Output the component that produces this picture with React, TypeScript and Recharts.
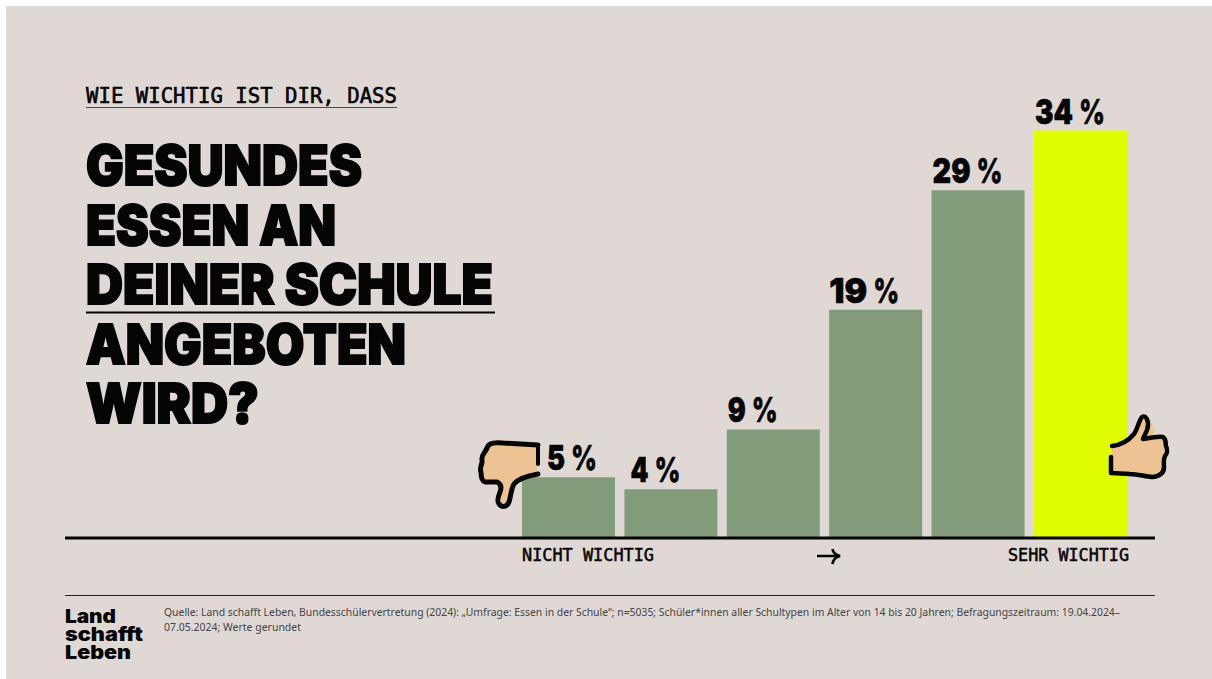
import React from 'react';
import { BarChart, Bar, Cell, XAxis, YAxis, LabelList } from 'recharts';

const categories = ['1', '2', '3', '4', '5', '6'];
const shares = [5, 4, 9, 19, 29, 34];
const barColors = ['#829c79', '#829c79', '#829c79', '#829c79', '#829c79', '#dfff00'];

const titleLines = ['GESUNDES', 'ESSEN AN', 'DEINER SCHULE', 'ANGEBOTEN', 'WIRD?'];
const sourceLines = [
  'Quelle: Land schafft Leben, Bundesschülervertretung (2024): „Umfrage: Essen in der Schule“; n=5035; Schüler*innen aller Schultypen im Alter von 14 bis 20 Jahren; Befragungszeitraum: 19.04.2024–',
  '07.05.2024; Werte gerundet',
];
const logoLines = ['Land', 'schafft', 'Leben'];

const data = categories.map((category, index) => ({
  category,
  share: shares[index],
  color: barColors[index],
}));

const INK = '#050505';
const HEAVY = 'Inter, "Liberation Sans", sans-serif';
const MONO = '"DejaVu Sans Mono", "Liberation Mono", monospace';

// title widths, fonts differ so text is fitted
const titleWidths = [276, 250, 407, 320, 173];
const titleBaselines = [185, 245, 304, 364, 423];
const logoWidths = [51, 78, 66];
// label offsets from the bar's left edge, the first one leaves room for the hand
const labelOffsets = [25, 6, 1, 0, 1, 1];

const ShareLabel = (props: any) => {
  const { x, y, value, index } = props;
  const left = x + labelOffsets[index];
  const digitsWidth = value >= 10 ? 38 : 18;
  const baseline = y - 7;
  return (
    <g>
      <text
        x={left}
        y={baseline}
        fill={INK}
        stroke={INK}
        strokeWidth={0.6}
        fontFamily={HEAVY}
        fontWeight={900}
        fontSize={34}
        textLength={digitsWidth}
        lengthAdjust="spacingAndGlyphs"
      >
        {value}
      </text>
      <text
        x={left + digitsWidth + 6}
        y={baseline}
        fill={INK}
        stroke={INK}
        strokeWidth={0.7}
        fontFamily={HEAVY}
        fontWeight={800}
        fontSize={34}
        textLength={26}
        lengthAdjust="spacingAndGlyphs"
      >
        %
      </text>
    </g>
  );
};

const Overlay = () => (
  <svg width={1212} height={679} style={{ position: 'absolute', left: 0, top: 0 }}>
    {/* kicker */}
    <text x={86} y={103} fontFamily={MONO} fontSize={20.6} fill={INK} stroke={INK} strokeWidth={0.6} textLength={311} lengthAdjust="spacingAndGlyphs">
      WIE WICHTIG IST DIR, DASS
    </text>
    <line x1={86} x2={397} y1={107.5} y2={107.5} stroke="#4a4a4a" strokeWidth={1} />

    {/* title */}
    {titleLines.map((line, i) => (
      <text
        key={line}
        x={86}
        y={titleBaselines[i]}
        fontFamily={HEAVY}
        fontWeight={900}
        fontSize={55}
        fill={INK}
        stroke={INK}
        strokeWidth={2}
        textLength={titleWidths[i]}
        lengthAdjust="spacingAndGlyphs"
      >
        {line}
      </text>
    ))}
    <line x1={86} x2={495} y1={312.5} y2={312.5} stroke={INK} strokeWidth={2} />

    {/* baseline and axis captions */}
    <line x1={65} x2={1155} y1={538} y2={538} stroke={INK} strokeWidth={3} />
    <text x={522} y={561} fontFamily={MONO} fontSize={16.8} fill={INK} stroke={INK} strokeWidth={0.5} textLength={132} lengthAdjust="spacingAndGlyphs">
      NICHT WICHTIG
    </text>
    <text x={1008} y={561} fontFamily={MONO} fontSize={16.8} fill={INK} stroke={INK} strokeWidth={0.5} textLength={121} lengthAdjust="spacingAndGlyphs">
      SEHR WICHTIG
    </text>
    <path d="M817 556H838M832.5 549C833 553 836 555 840 556C836 557 833 560 832.5 564" fill="none" stroke={INK} strokeWidth={2.6} />

    {/* thumb down */}
    <path d="M488 446L537 446L537 472L522 477L512 487L505 505L497 504L500 483L484 481L481 468L483 455Z" fill="#edc393" />
    <path
      d="M538 445L503 443C494 442 488 443 487 448C485 453 481 455 482 460C483 463 479 468 481 472C481 477 482 481 485 482L497 482C501 484 502 487 500 492C498 497 497 502 499 504C502 508 507 507 509 502C511 496 511 489 514 484C518 479 526 476 538 474"
      fill="none" stroke={INK} strokeWidth={5} strokeLinecap="round" strokeLinejoin="round"
    />
    <path d="M538 445V464" fill="none" stroke={INK} strokeWidth={4} strokeLinecap="round" />

    {/* thumb up */}
    <path d="M1112 447L1126 443L1136 432L1141 418L1150 418L1155 436L1163 438L1166 452L1163 472L1152 476L1112 472Z" fill="#edc393" />
    <path
      d="M1112 446C1122 445 1129 440 1134 434C1138 428 1139 420 1142 417C1146 415 1148 420 1148 425C1148 431 1144 435 1143 439C1149 438 1158 436 1163 437C1167 440 1165 443 1166 446C1168 450 1167 454 1165 456C1163 460 1164 463 1164 467C1164 472 1161 476 1153 477C1145 477 1139 474 1130 474L1111 473V457"
      fill="none" stroke={INK} strokeWidth={4.5} strokeLinecap="round" strokeLinejoin="round"
    />

    {/* footer */}
    <line x1={65} x2={1155} y1={595.5} y2={595.5} stroke="#222" strokeWidth={1} />
    {logoLines.map((line, i) => (
      <text
        key={line}
        x={65}
        y={623 + i * 18}
        fontFamily={HEAVY}
        fontWeight={900}
        fontSize={19}
        fill={INK}
        textLength={logoWidths[i]}
        lengthAdjust="spacingAndGlyphs"
      >
        {line}
      </text>
    ))}
    {sourceLines.map((line, i) => (
      <text
        key={line}
        x={164}
        y={616 + i * 15}
        fontFamily='"Noto Sans", sans-serif'
        fontSize={10.3}
        fill="#444444"
        textLength={i === 0 ? 956 : 137}
        lengthAdjust="spacingAndGlyphs"
      >
        {line}
      </text>
    ))}
  </svg>
);

export default function App() {
  return (
    <div style={{ position: 'absolute', left: 0, top: 0, width: 1212, height: 679, background: '#ffffff', overflow: 'hidden' }}>
      <div style={{ position: 'absolute', left: 6, top: 6, width: 1206, height: 673, background: '#e0d8d5' }} />
      <div style={{ position: 'absolute', left: 0, top: 0 }}>
        <BarChart
          width={1212}
          height={679}
          data={data}
          margin={{ top: 130.5, right: 80.6, bottom: 142, left: 517 }}
        >
          <XAxis dataKey="category" hide />
          <YAxis hide domain={[0, 34]} />
          <Bar dataKey="share" barSize={93} isAnimationActive={false}>
            {data.map((entry) => (
              <Cell key={entry.category} fill={entry.color} />
            ))}
            <LabelList dataKey="share" content={<ShareLabel />} />
          </Bar>
        </BarChart>
      </div>
      <Overlay />
    </div>
  );
}
